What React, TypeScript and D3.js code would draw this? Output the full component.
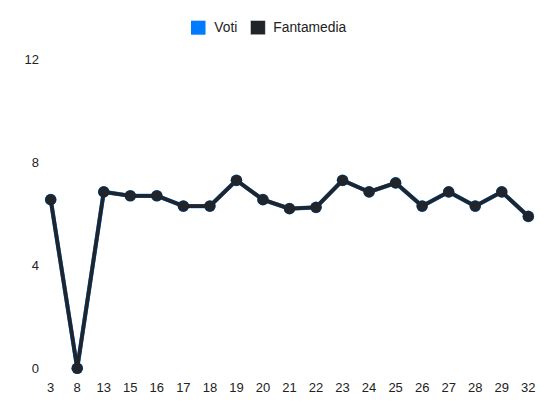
import React from "react";
import * as d3 from "d3";

const categories = ["3", "8", "13", "15", "16", "17", "18", "19", "20", "21", "22", "23", "24", "25", "26", "27", "28", "29", "32"];
const voti = [6.55, 0, 6.85, 6.7, 6.7, 6.3, 6.3, 7.3, 6.55, 6.2, 6.25, 7.3, 6.85, 7.2, 6.3, 6.85, 6.3, 6.85, 5.9];
const fantamedia = [6.55, 0, 6.85, 6.7, 6.7, 6.3, 6.3, 7.3, 6.55, 6.2, 6.25, 7.3, 6.85, 7.2, 6.3, 6.85, 6.3, 6.85, 5.9];
const yTicks = [0, 4, 8, 12];
const legendItems = [
  { label: "Voti", color: "#007bff" },
  { label: "Fantamedia", color: "#212529" },
];

const W = 550;
const H = 412;

export default function App() {
  const x = d3.scalePoint<string>().domain(categories).range([50.7, 528.3]);
  const y = d3.scaleLinear().domain([0, 12]).range([368.3, 59.3]);
  const line = d3
    .line<number>()
    .x((_, i) => x(categories[i]) as number)
    .y((d) => y(d));
  const font = "'Liberation Sans', Arial, Helvetica, sans-serif";
  return (
    <div style={{ position: "fixed", left: 0, top: 0, width: W, height: H, background: "#fff" }}>
      <svg width={W} height={H} style={{ display: "block" }} fontFamily={font}>
        {/* legend */}
        <g>
          <rect x={191} y={20.7} width={14.5} height={14} fill={legendItems[0].color} />
          <text x={214.3} y={27.5} fontSize={13.8} dominantBaseline="central" fill="#222">
            {legendItems[0].label}
          </text>
          <rect x={250.7} y={20.7} width={14.5} height={14} fill={legendItems[1].color} stroke="#ccc" strokeWidth={0.5} />
          <text x={273.3} y={27.5} fontSize={13.8} dominantBaseline="central" fill="#222">
            {legendItems[1].label}
          </text>
        </g>
        {/* y ticks */}
        {yTicks.map((t) => (
          <text key={t} x={39} y={y(t)} fontSize={13} textAnchor="end" dominantBaseline="central" fill="#222">
            {t}
          </text>
        ))}
        {/* x ticks */}
        {categories.map((c) => (
          <text key={c} x={x(c) as number} y={387.5} fontSize={13} textAnchor="middle" dominantBaseline="central" fill="#222">
            {c}
          </text>
        ))}
        {/* Voti */}
        <path d={line(voti) || ""} fill="none" stroke="#007bff" strokeWidth={4.2} strokeLinejoin="round" />
        {voti.map((v, i) => (
          <circle key={"v" + i} cx={x(categories[i]) as number} cy={y(v)} r={5.8} fill="#007bff" />
        ))}
        {/* Fantamedia */}
        <path d={line(fantamedia) || ""} fill="none" stroke="#212529" strokeWidth={3.8} strokeLinejoin="round" />
        {fantamedia.map((v, i) => (
          <circle key={"f" + i} cx={x(categories[i]) as number} cy={y(v)} r={5.6} fill="#212529" />
        ))}
      </svg>
    </div>
  );
}
